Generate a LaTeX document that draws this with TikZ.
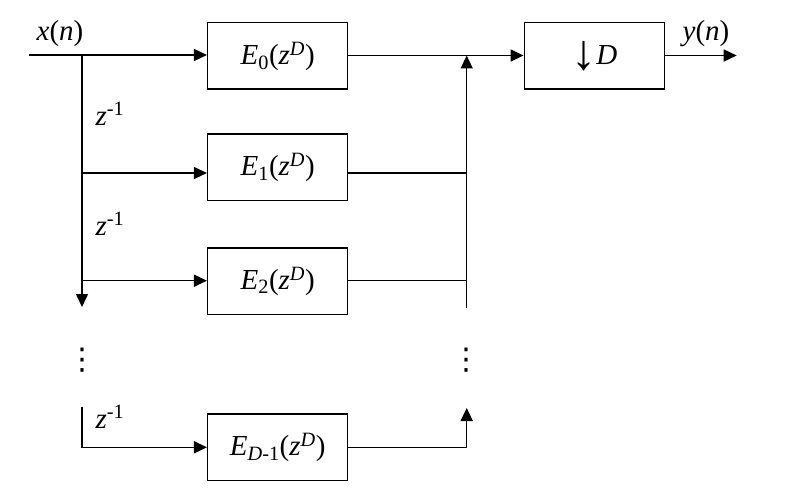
\documentclass[tikz,border=0pt]{standalone}
\usepackage{fontspec}
\setmainfont{Liberation Serif}
\newfontfamily\symfont{DejaVu Sans}
\usetikzlibrary{arrows.meta}

\newcommand{\Ez}[1]{\textit{E}\textsubscript{#1}(\textit{z}\textsuperscript{\textit{D}})}
\newcommand{\zinv}{\textit{z}\textsuperscript{-1}}

\begin{document}
\begin{tikzpicture}[x=1pt,y=1pt,yscale=-1,line width=1.5pt,
  every node/.style={font=\fontsize{29}{34}\selectfont},
  blk/.style={draw,minimum width=140pt,minimum height=66.5pt,inner sep=0pt},
  lbl/.style={inner sep=0.75pt},
  vd/.style={inner sep=0pt,font=\symfont\fontsize{30}{30}\selectfont},
  arr/.style={-{Triangle[length=13pt,width=12pt]}}]
\useasboundingbox (0,0) rectangle (800,492);

%Blocks
\node[blk] (e0) at (277.7,56) {\Ez{0}};
\node[blk] (e1) at (277.7,167.3) {\Ez{1}};
\node[blk] (e2) at (277.7,281) {\Ez{2}};
\node[blk] (e3) at (277.7,447.3) {\textit{E}\textsubscript{\textit{D}-1}(\textit{z}\textsuperscript{\textit{D}})};
\node[blk] (dn) at (594.3,56) {\raisebox{-0.18em}{\fontsize{50}{50}\selectfont ↓}\textit{D}};

%Points on the busses
\coordinate (in) at (29,55);
\coordinate (l0) at (82,55);
\coordinate (lend) at (82,307);
\coordinate (l1) at (82,173);
\coordinate (l2) at (82,280.7);
\coordinate (l3) at (82,407.3);
\coordinate (l3b) at (82,447.3);
\coordinate (r0) at (466.7,55.5);
\coordinate (r1) at (466.7,173);
\coordinate (r2) at (466.7,280.7);
\coordinate (rend) at (466.7,308.3);
\coordinate (r3) at (466.7,447.3);
\coordinate (r3t) at (466.7,408);
\coordinate (out) at (736.7,55.5);

%Input side
\draw[arr] (in) -- (in -| e0.west);
\draw[arr] (l0) -- (lend);
\draw[arr] (l1) -- (l1 -| e1.west);
\draw[arr] (l2) -- (l2 -| e2.west);
\draw[arr] (l3) -- (l3b) -- (l3b -| e3.west);

%Output side
\draw (e0.east |- r0) -- (r0);
\draw (e1.east |- r1) -- (r1);
\draw (e2.east |- r2) -- (r2);
\draw[arr] (rend) -- (r0);
\draw[arr] (r3 -| e3.east) -- (r3) -- (r3t);
\draw[arr] (r0) -- (r0 -| dn.west);
\draw[arr] (dn.east |- out) -- (out);

% Text Node
\node[lbl,anchor=base] (xn) at (60,41) {\textit{x}(\textit{n})};
\node[lbl,anchor=base] (yn) at (706,41) {\textit{y}(\textit{n})};
\node[lbl,anchor=base west] (z1) at (94,125) {\zinv};
\node[lbl,anchor=base west] (z2) at (94,235) {\zinv};
\node[lbl,anchor=base west] (z3) at (94,428) {\zinv};
\node[vd] (ldots) at (82,360) {⋮};
\node[vd] (rdots) at (466.7,360) {⋮};

\end{tikzpicture}
\end{document}
